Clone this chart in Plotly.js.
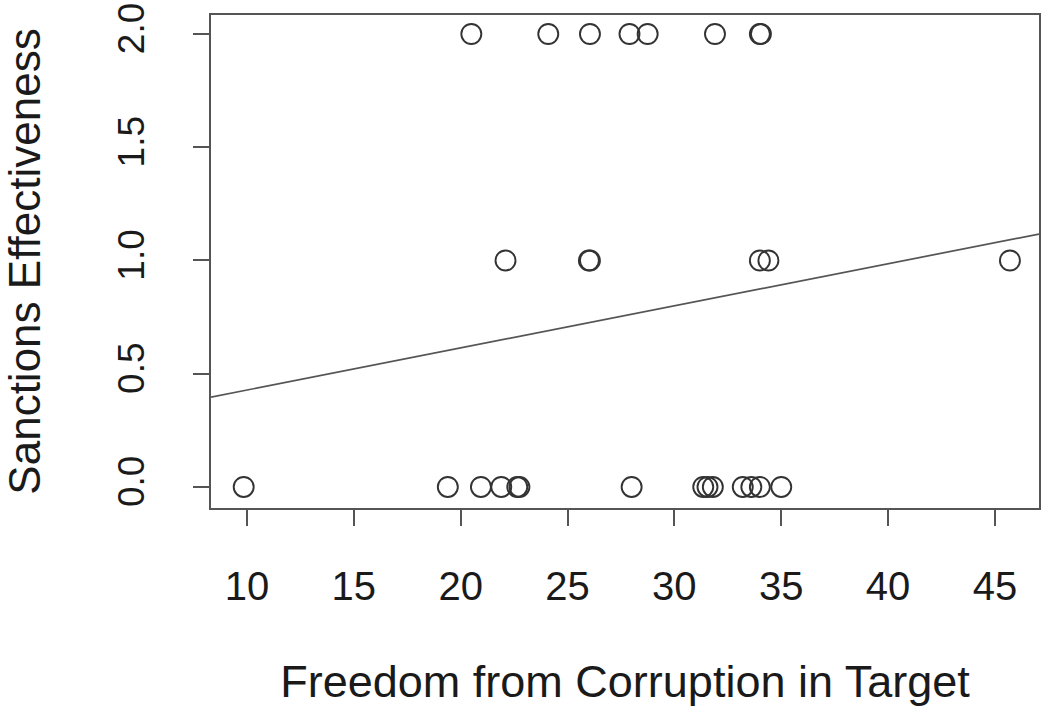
<!DOCTYPE html>
<html>
<head>
<meta charset="utf-8">
<script src="https://cdn.plot.ly/plotly-3.0.1.min.js"></script>
<style>html,body{margin:0;padding:0;background:#fff;}#chart{width:1042px;height:707px;}</style>
</head>
<body>
<div id="chart"></div>
<script>
// Freedom from Corruption in Target (x) vs Sanctions Effectiveness (y)
var corruption = [20.5, 24.1, 26.05, 27.9, 28.75, 31.9, 34.0, 34.05,
                  22.1, 26.0, 26.05, 34.0, 34.4, 45.7,
                  9.85, 19.4, 20.95, 21.9, 22.65, 22.75, 28.0, 31.35, 31.55, 31.8, 33.2, 33.6, 34.0, 35.0];
var effectiveness = [2, 2, 2, 2, 2, 2, 2, 2,
                     1, 1, 1, 1, 1, 1,
                     0, 0, 0, 0, 0, 0, 0, 0, 0, 0, 0, 0, 0, 0];
// fitted regression line
var fitIntercept = 0.242;
var fitSlope = 0.01859;
var xRange = [8.32, 47.06];
var yRange = [-0.093, 2.084];
var xTicks = [10, 15, 20, 25, 30, 35, 40, 45];
var yTicks = [0, 0.5, 1, 1.5, 2];
var yTickText = ['0.0', '0.5', '1.0', '1.5', '2.0'];

var fitX = xRange.slice();
var fitY = fitX.map(function (v) { return fitIntercept + fitSlope * v; });

var font = 'Liberation Sans, Arial, Helvetica, sans-serif';
var data = [
  {
    x: corruption, y: effectiveness, type: 'scatter', mode: 'markers',
    marker: {symbol: 'circle-open', size: 20, color: '#333', line: {width: 1.9, color: '#333'}},
    hoverinfo: 'x+y', showlegend: false
  },
  {
    x: fitX, y: fitY, type: 'scatter', mode: 'lines',
    line: {color: '#555', width: 1.7}, hoverinfo: 'skip', showlegend: false
  }
];
var layout = {
  width: 1042, height: 707,
  margin: {l: 211, r: 3, t: 15, b: 199},
  paper_bgcolor: '#fff', plot_bgcolor: '#fff',
  font: {family: font, color: '#1a1a1a'},
  xaxis: {
    range: xRange, tickvals: xTicks, ticktext: xTicks.map(String),
    showgrid: false, zeroline: false, showline: true, mirror: true,
    linecolor: '#555', linewidth: 2,
    ticks: 'outside', ticklen: 16, tickwidth: 2, tickcolor: '#555',
    tickfont: {size: 40, family: font, color: '#1a1a1a'},
    ticklabelstandoff: 26,
    title: {text: 'Freedom from Corruption in Target', font: {size: 45, family: font, color: '#1a1a1a'}, standoff: 78}
  },
  yaxis: {
    range: yRange, tickvals: yTicks, ticktext: yTickText,
    showgrid: false, zeroline: false, showline: true, mirror: true,
    linecolor: '#555', linewidth: 2,
    ticks: 'outside', ticklen: 16, tickwidth: 2, tickcolor: '#555',
    tickangle: -90,
    tickfont: {size: 37, family: font, color: '#1a1a1a'},
    ticklabelstandoff: 34,
    title: {text: 'Sanctions Effectiveness', font: {size: 44, family: font, color: '#1a1a1a'}, standoff: 74}
  }
};
Plotly.newPlot('chart', data, layout, {displayModeBar: false, staticPlot: true});
</script>
</body>
</html>
